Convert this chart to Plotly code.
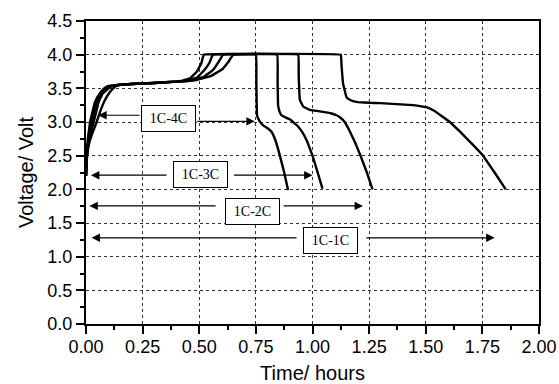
import plotly.graph_objects as go

# ---- data (time in hours, voltage in V) ----
t_1c4c = [0, 0.003, 0.008, 0.018, 0.04, 0.06, 0.08, 0.10, 0.14, 0.2, 0.3, 0.4, 0.42, 0.46, 0.49, 0.51, 0.52,
          0.75, 0.752, 0.755, 0.765, 0.782, 0.80, 0.819, 0.835, 0.856, 0.875, 0.892]
v_1c4c = [2.2, 2.5, 2.75, 3.0, 3.3, 3.42, 3.5, 3.535, 3.55, 3.565, 3.58, 3.60, 3.61, 3.65, 3.75, 3.88, 4.0,
          4.0, 3.6, 3.1, 3.02, 2.95, 2.91, 2.855, 2.74, 2.5, 2.25, 1.99]

t_1c3c = [0, 0.004, 0.01, 0.026, 0.048, 0.066, 0.09, 0.11, 0.14, 0.2, 0.3, 0.4, 0.44, 0.49, 0.52, 0.545, 0.56,
          0.844, 0.846, 0.848, 0.855, 0.863, 0.88, 0.90, 0.937, 0.955, 0.974, 1.0, 1.022, 1.044]
v_1c3c = [2.2, 2.5, 2.72, 3.0, 3.3, 3.42, 3.5, 3.535, 3.55, 3.565, 3.58, 3.60, 3.61, 3.66, 3.76, 3.88, 4.0,
          4.0, 3.6, 3.25, 3.15, 3.10, 3.07, 3.04, 2.93, 2.85, 2.73, 2.5, 2.26, 2.01]

t_1c2c = [0, 0.004, 0.012, 0.034, 0.056, 0.073, 0.10, 0.12, 0.145, 0.2, 0.3, 0.4, 0.46, 0.52, 0.56, 0.585, 0.605,
          0.937, 0.939, 0.944, 0.959, 0.988, 1.047, 1.08, 1.106, 1.125, 1.142, 1.165, 1.19, 1.212, 1.24, 1.265]
v_1c2c = [2.2, 2.5, 2.72, 3.0, 3.3, 3.42, 3.5, 3.535, 3.55, 3.565, 3.58, 3.60, 3.61, 3.67, 3.77, 3.89, 4.0,
          4.0, 3.7, 3.33, 3.23, 3.18, 3.15, 3.13, 3.10, 3.06, 3.0, 2.86, 2.68, 2.5, 2.25, 2.0]

t_1c1c = [0, 0.005, 0.015, 0.03, 0.047, 0.062, 0.08, 0.10, 0.12, 0.135, 0.15, 0.2, 0.3, 0.4, 0.48, 0.55, 0.60, 0.63, 0.65,
          1.125, 1.128, 1.135, 1.15, 1.165, 1.179, 1.20, 1.253, 1.30, 1.37, 1.444, 1.503, 1.535, 1.565, 1.606, 1.65,
          1.70, 1.753, 1.804, 1.853]
v_1c1c = [2.2, 2.5, 2.7, 2.85, 3.0, 3.15, 3.3, 3.42, 3.5, 3.54, 3.555, 3.565, 3.58, 3.60, 3.62, 3.68, 3.78, 3.9, 4.0,
          4.0, 3.85, 3.57, 3.37, 3.33, 3.31, 3.295, 3.285, 3.28, 3.265, 3.25, 3.22, 3.17, 3.10, 3.00, 2.86,
          2.69, 2.5, 2.25, 2.0]

series_t = [t_1c4c, t_1c3c, t_1c2c, t_1c1c]
series_v = [v_1c4c, v_1c3c, v_1c2c, v_1c1c]

# labels and arrows
labels = ["1C-4C", "1C-3C", "1C-2C", "1C-1C"]
label_x = [0.364, 0.507, 0.734, 1.081]
label_y = [3.058, 2.215, 1.675, 1.237]
arrow_y = [3.10, 2.21, 1.754, 1.28]
arrow_right_y = [3.01, 2.21, 1.754, 1.28]
left_start = [0.243, 0.362, 0.579, 0.936]
left_end = [0.054, 0.022, 0.015, 0.025]
right_start = [0.485, 0.647, 0.866, 1.231]
right_end = [0.745, 1.0, 1.223, 1.804]

x_ticks = [0, 0.25, 0.5, 0.75, 1.0, 1.25, 1.5, 1.75, 2.0]
y_ticks = [0, 0.5, 1.0, 1.5, 2.0, 2.5, 3.0, 3.5, 4.0, 4.5]

FONT = "Liberation Sans, Arial, sans-serif"

fig = go.Figure()
for t, v in zip(series_t, series_v):
    fig.add_trace(go.Scatter(x=t, y=v, mode="lines", line=dict(color="black", width=2.4, shape="spline", smoothing=0.15),
                             showlegend=False, hoverinfo="skip"))

ann = []
for i in range(len(labels)):
    ann.append(dict(x=label_x[i], y=label_y[i], text=labels[i], showarrow=False, xref="x", yref="y",
                    font=dict(family="Liberation Serif, Times New Roman, serif", size=14, color="black"),
                    bordercolor="black", borderwidth=1, borderpad=1, bgcolor="white",
                    width=51, height=23, align="center", valign="middle",
                    xanchor="center", yanchor="middle"))
    ann.append(dict(x=left_end[i], y=arrow_y[i], ax=left_start[i], ay=arrow_y[i], xref="x", yref="y",
                    axref="x", ayref="y", text="", showarrow=True, arrowhead=2, arrowsize=1.4, arrowwidth=1.2,
                    arrowcolor="black"))
    ann.append(dict(x=right_end[i], y=arrow_right_y[i], ax=right_start[i], ay=arrow_right_y[i], xref="x", yref="y",
                    axref="x", ayref="y", text="", showarrow=True, arrowhead=2, arrowsize=1.4, arrowwidth=1.2,
                    arrowcolor="black"))

axis_common = dict(showline=True, linecolor="black", linewidth=2, mirror=True,
                   ticks="outside", ticklen=8, tickwidth=1.5, tickcolor="black",
                   showgrid=True, gridcolor="#333", griddash="dot", gridwidth=1, zeroline=False,
                   automargin=False,
                   tickfont=dict(family=FONT, size=18, color="black"))

fig.update_layout(
    width=559, height=384,
    margin=dict(l=86, r=20, t=21, b=60),
    paper_bgcolor="white", plot_bgcolor="white",
    annotations=ann,
    xaxis=dict(range=[0, 2.0], tickvals=x_ticks, ticktext=[f"{v:.2f}" for v in x_ticks],
               minor=dict(ticks="outside", ticklen=4, tickwidth=1.5, tickcolor="black", dtick=0.125, tick0=0, showgrid=False),
               ticklabelstandoff=-3,
               title=dict(text="Time/ hours", font=dict(family=FONT, size=20, color="black"), standoff=10),
               **axis_common),
    yaxis=dict(range=[0, 4.5], tickvals=y_ticks, ticktext=[f"{v:.1f}" for v in y_ticks],
               minor=dict(ticks="outside", ticklen=4, tickwidth=1.5, tickcolor="black", dtick=0.25, tick0=0, showgrid=False),
               title=dict(text="Voltage/ Volt", font=dict(family=FONT, size=20, color="black"), standoff=8),
               **axis_common),
)

fig.write_html("out.html")
